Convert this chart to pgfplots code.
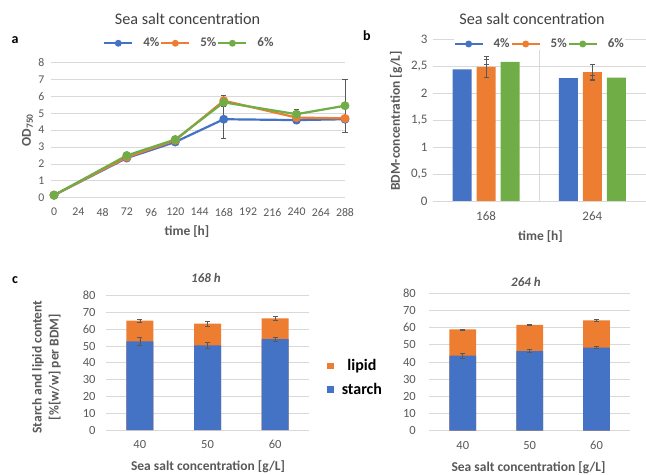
\documentclass[border=0pt]{standalone}
\usepackage{fontspec}
\setmainfont{Carlito}
\usepackage{pgfplots}
\pgfplotsset{compat=1.18}
\definecolor{cblue}{HTML}{4472C4}
\definecolor{corange}{HTML}{ED7D31}
\definecolor{cgreen}{HTML}{70AD47}
\definecolor{cgrid}{HTML}{D9D9D9}
\definecolor{ctext}{HTML}{595959}
\definecolor{ctitle}{HTML}{404040}
\newcommand\fsz[1]{\fontsize{#1bp}{#1bp}\selectfont}
\newcommand\legtxt[1]{\hspace*{-5bp}#1}
\pgfplotsset{
  every axis/.append style={
    scale only axis, anchor=south west,
    axis line style={draw=none}, tick style={draw=none},
    major tick length=0pt,
    ymajorgrids, grid style={cgrid, line width=0.8bp},
    ticklabel style={text=ctext},
    /pgf/number format/assume math mode=true,
    clip=false,
  },
  errstyle/.style={error bars/.cd, y dir=both, y explicit,
    error bar style={ctext, line width=0.6bp},
    error mark options={rotate=90, mark size=2.6bp, ctext, line width=0.6bp}},
  linelegend/.style={legend image code/.code={
    \draw[##1, mark size=2.4bp, line width=2bp, mark repeat=2, mark phase=2]
      plot coordinates {(0bp,0bp) (14bp,0bp) (28bp,0bp)};}},
  boxlegend/.style={legend image code/.code={
    \fill[##1] (0bp,-3.3bp) rectangle (6.5bp,3.3bp);}},
}
\begin{document}
\begin{tikzpicture}
\path[use as bounding box] (0bp,0bp) rectangle (646bp,475bp);

% ---------------- panel a ----------------
\begin{axis}[at={(51bp,277.3bp)}, width=294bp, height=135bp,
  xmin=-3, xmax=288, ymin=0, ymax=8,
  xtick={0,24,...,288}, ytick={0,1,...,8},
  ticklabel style={font=\fsz{11.8}},
  xticklabel style={yshift=-7bp}, yticklabel style={xshift=-3bp},
  linelegend,
  legend columns=3,
  legend style={at={(0.469,1.144)}, anchor=center, draw=none, fill=none,
    font=\fsz{13}\bfseries, text=ctext, inner sep=0pt,
    nodes={inner xsep=1bp, inner ysep=1bp},
    /tikz/every even column/.append style={column sep=0bp},
    /tikz/every odd column/.append style={column sep=14bp}},
]
\addplot[cblue, line width=2.2bp, mark=*, mark size=3.3bp, errstyle] coordinates {
 (0,0.15) +- (0,0.02) (72,2.35) +- (0,0.05) (120,3.3) +- (0,0.05)
 (168,4.65) +- (0,1.15) (240,4.6) +- (0,0.18) (288,4.65) +- (0,0.05)};
\addplot[corange, line width=2.2bp, mark=*, mark size=3.3bp, errstyle] coordinates {
 (0,0.15) +- (0,0.02) (72,2.4) +- (0,0.08) (120,3.4) +- (0,0.05)
 (168,5.75) +- (0,0.33) (240,4.75) +- (0,0.1) (288,4.7) +- (0,0.1)};
\addplot[cgreen, line width=2.2bp, mark=*, mark size=3.3bp, errstyle] coordinates {
 (0,0.15) +- (0,0.02) (72,2.5) +- (0,0.05) (120,3.45) +- (0,0.05)
 (168,5.65) +- (0,0.25) (240,4.95) +- (0,0.28) (288,5.45) +- (0,1.55)};
\legend{\legtxt{4\%},\legtxt{5\%},\legtxt{6\%}}
\end{axis}

% ---------------- panel b ----------------
\begin{axis}[at={(433bp,274bp)}, width=212.5bp, height=161.7bp,
  xmin=-0.5, xmax=1.5, ymin=0, ymax=3,
  xtick={0,1}, xticklabels={168,264}, ytick={0,0.5,...,3},
  /pgf/number format/use comma,
  extra x ticks={0.5}, extra x tick labels={}, extra x tick style={grid=major},
  ticklabel style={font=\fsz{13}},
  xticklabel style={yshift=-7bp}, yticklabel style={xshift=-2bp},
  linelegend,
  legend columns=3,
  legend style={at={(0.50,0.971)}, anchor=center, draw=none, fill=white,
    font=\fsz{13}\bfseries, text=ctext, inner sep=0pt,
    nodes={inner xsep=1bp, inner ysep=1bp},
    /tikz/every even column/.append style={column sep=0bp},
    /tikz/every odd column/.append style={column sep=14bp}},
]
\addlegendimage{cblue, mark=*}
\addlegendimage{corange, mark=*}
\addlegendimage{cgreen, mark=*}
\addplot[ybar, bar width=19bp, bar shift=-24bp, fill=cblue, draw=none, errstyle] coordinates {
 (0,2.44) +- (0,0.03) (1,2.28) +- (0,0.01)};
\addplot[ybar, bar width=19bp, bar shift=0bp, fill=corange, draw=none, errstyle] coordinates {
 (0,2.49) +- (0,0.2) (1,2.39) +- (0,0.15)};
\addplot[ybar, bar width=19bp, bar shift=24bp, fill=cgreen, draw=none, errstyle] coordinates {
 (0,2.58) +- (0,0.05) (1,2.29) +- (0,0.04)};
\legend{\legtxt{4\%},\legtxt{5\%},\legtxt{6\%}}
\end{axis}

% ---------------- panel c, 168 h ----------------
\begin{axis}[at={(106bp,45bp)}, width=203bp, height=134.3bp,
  xmin=-0.5, xmax=2.5, ymin=0, ymax=80,
  xtick={0,1,2}, xticklabels={40,50,60}, ytick={0,10,...,80},
  ticklabel style={font=\fsz{12.5}},
  xticklabel style={yshift=-7bp}, yticklabel style={xshift=-7bp},
  boxlegend,
  legend style={at={(1.089,0.388)}, anchor=west, draw=none, fill=none,
    font=\fsz{16}\bfseries, text=black, inner sep=0pt, row sep=7bp},
]
% total (starch + lipid) drawn first, starch on top of it
\addplot[ybar, bar width=27bp, bar shift=0bp, fill=corange, draw=none, errstyle] coordinates {
 (0,65.1) +- (0,0.7) (1,63.3) +- (0,1.7) (2,66.5) +- (0,1.4)};
\addplot[ybar, bar width=27bp, bar shift=0bp, fill=cblue, draw=none, errstyle] coordinates {
 (0,52.8) +- (0,2.6) (1,50.4) +- (0,1.7) (2,54.2) +- (0,1.2)};
\legend{\hspace*{6bp}lipid,\hspace*{6bp}starch}
\end{axis}

% ---------------- panel c, 264 h ----------------
\begin{axis}[at={(429.3bp,44.3bp)}, width=200.7bp, height=137.4bp,
  xmin=-0.5, xmax=2.5, ymin=0, ymax=80,
  xtick={0,1,2}, xticklabels={40,50,60}, ytick={0,10,...,80},
  ticklabel style={font=\fsz{12.5}},
  xticklabel style={yshift=-7bp}, yticklabel style={xshift=-10bp},
]
\addplot[ybar, bar width=26.7bp, bar shift=0bp, fill=corange, draw=none, errstyle] coordinates {
 (0,59.0) +- (0,0.3) (1,61.6) +- (0,0.5) (2,64.3) +- (0,0.4)};
\addplot[ybar, bar width=26.7bp, bar shift=0bp, fill=cblue, draw=none, errstyle] coordinates {
 (0,43.7) +- (0,1.3) (1,46.4) +- (0,1.0) (2,48.3) +- (0,0.6)};
\end{axis}

% ---------------- titles and labels ----------------
\node[font=\fsz{16.2}, text=ctitle] at (187.5bp,456.5bp) {Sea salt concentration};
\node[font=\fsz{16.2}, text=ctitle] at (532bp,456bp) {Sea salt concentration};
\node[font=\fsz{14}\bfseries] at (15bp,435bp) {a};
\node[font=\fsz{14}\bfseries] at (367bp,439bp) {b};
\node[font=\fsz{14}\bfseries] at (15bp,195bp) {c};
\node[font=\fsz{13.5}\bfseries, text=ctext, rotate=90] at (27.5bp,345bp) {OD\textsubscript{750}};
\node[font=\fsz{13.5}\bfseries, text=ctext] at (187bp,243bp) {time [h]};
\node[font=\fsz{13.5}\bfseries, text=ctext, rotate=90] at (396bp,354bp) {BDM-concentration [g/L]};
\node[font=\fsz{13.5}\bfseries, text=ctext] at (540.5bp,238bp) {time [h]};
\node[font=\fsz{13}\bfseries\itshape, text=ctext] at (206bp,197bp) {168 h};
\node[font=\fsz{13}\bfseries\itshape, text=ctext] at (526bp,193bp) {264 h};
\node[font=\fontsize{13.5bp}{17bp}\selectfont\bfseries, text=ctext, rotate=90, align=center]
  at (46.5bp,108bp) {Starch and lipid content\\{}[\%[w/w] per BDM]};
\node[font=\fsz{13.5}\bfseries, text=ctext] at (208bp,8.5bp) {Sea salt concentration [g/L]};
\node[font=\fsz{13.5}\bfseries, text=ctext] at (528.5bp,7bp) {Sea salt concentration [g/L]};
\end{tikzpicture}
\end{document}
